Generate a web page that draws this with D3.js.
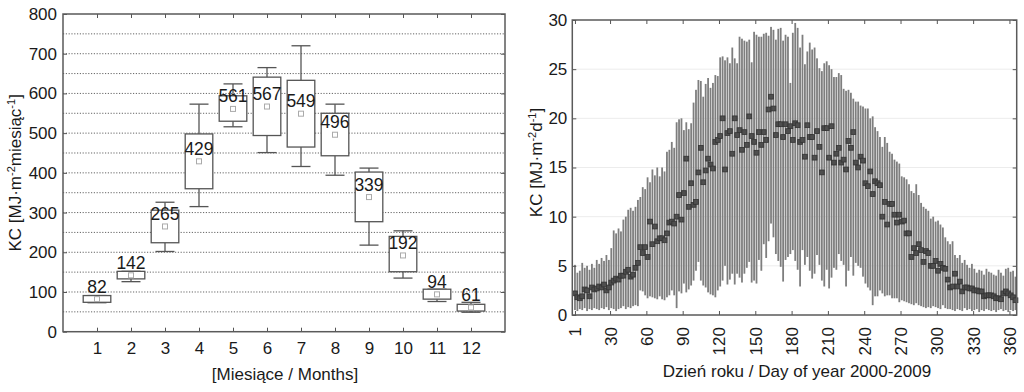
<!DOCTYPE html>
<html lang="pl">
<head>
<meta charset="utf-8">
<title>KC</title>
<script src="https://d3js.org/d3.v7.min.js"></script>
<style>
  body { margin: 0; background: #fff; }
  svg { display: block; font-family: "Liberation Sans", Arial, sans-serif; }
  .axis text { fill: #1a1a1a; font-size: 17px; }
  .axis line { stroke: #555; }
  .axis path { display: none; }
</style>
</head>
<body>
<div id="viz"></div>
<script>
// ---- left chart: monthly totals (box plot) ----
const months  = [1, 2, 3, 4, 5, 6, 7, 8, 9, 10, 11, 12];
const kcMean  = [82, 142, 265, 429, 561, 567, 549, 496, 339, 192, 94, 61];
const kcQ1    = [74, 133, 224, 360, 530, 494, 465, 443, 277, 151, 82, 52];
const kcQ3    = [91, 152, 306, 498, 594, 641, 633, 550, 402, 240, 107, 69];
const kcMin   = [73, 126, 202, 315, 516, 451, 416, 394, 218, 135, 76, 49];
const kcMax   = [91, 152, 326, 573, 624, 665, 720, 573, 412, 254, 107, 74];
const monthYTicks = [0, 100, 200, 300, 400, 500, 600, 700, 800];

// ---- right chart: daily values 2000-2009 (every second day) ----
const days = d3.range(1, 366, 2);
const dayMax = [
  5.1, 4.3, 4.5, 5.3, 4.8, 5.0, 4.6, 5.2, 4.8, 5.6,
  5.2, 5.8, 5.5, 6.1, 5.6, 6.8, 8.6, 8.3, 8.8, 8.5,
  9.7, 10.0, 10.7, 10.9, 10.6, 11.0, 11.7, 12.0, 13.0, 12.8,
  14.0, 13.5, 14.8, 14.2, 15.0, 14.1, 15.0, 14.6, 16.6, 16.8,
  17.6, 17.0, 19.6, 19.9, 20.0, 18.8, 19.6, 18.9, 19.5, 21.6,
  22.9, 23.9, 23.8, 22.2, 23.5, 24.1, 23.1, 23.6, 24.4, 24.3,
  26.2, 26.3, 25.9, 26.2, 25.6, 27.2, 26.1, 25.6, 28.3, 28.1,
  27.9, 27.8, 28.0, 25.7, 28.8, 28.5, 28.3, 28.3, 28.6, 28.7,
  28.4, 29.3, 29.0, 28.0, 29.1, 29.2, 27.9, 28.5, 28.3, 23.6,
  28.7, 29.7, 29.2, 27.2, 28.5, 25.5, 26.8, 27.7, 27.0, 27.2,
  26.1, 25.1, 24.8, 25.6, 25.8, 25.4, 25.0, 24.2, 24.2, 24.6,
  24.4, 23.0, 22.8, 22.9, 22.6, 22.0, 21.7, 21.7, 21.3, 21.2,
  21.0, 21.0, 20.0, 20.2, 19.1, 18.7, 18.1, 17.1, 18.1, 17.5,
  16.6, 16.4, 15.8, 15.6, 15.4, 14.1, 14.0, 13.8, 13.3, 12.6,
  12.4, 13.3, 12.2, 11.4, 11.0, 10.8, 10.6, 9.8, 10.0, 9.5,
  9.6, 9.2, 8.9, 7.9, 7.5, 7.2, 7.5, 6.1, 5.8, 6.1,
  5.3, 5.6, 5.1, 4.8, 5.2, 4.7, 4.3, 4.6, 4.5, 4.1,
  4.7, 4.4, 4.3, 4.1, 4.0, 4.6, 4.3, 4.0, 4.7, 4.8,
  4.4, 4.5, 3.9
];
const dayMin = [
  0.5, 0.4, 0.6, 0.5, 0.7, 0.4, 0.6, 0.5, 0.7, 0.6,
  0.5, 0.7, 0.6, 0.8, 0.5, 0.7, 0.6, 0.4, 0.6, 0.7,
  0.9, 0.6, 0.8, 0.7, 0.9, 1.0, 0.9, 2.5, 2.4, 2.0,
  1.7, 1.9, 1.8, 1.7, 1.6, 1.9, 1.6, 1.5, 1.8, 2.0,
  2.5, 2.0, 0.7, 2.4, 2.2, 3.2, 2.3, 2.6, 3.0, 3.5,
  4.5, 5.4, 3.5, 3.0, 2.8, 2.3, 2.1, 2.0, 1.8, 2.5,
  2.9, 3.5, 5.0, 3.1, 3.6, 4.2, 3.1, 4.2, 3.8, 3.3,
  4.2, 4.8, 5.4, 3.3, 3.5, 3.2, 5.6, 4.5, 7.2, 5.8,
  7.5, 9.3, 7.9, 6.2, 5.5, 4.9, 3.4, 5.6, 5.9, 6.2,
  6.6, 5.5, 4.6, 2.9, 6.6, 5.1, 5.9, 4.5, 3.7, 4.2,
  6.1, 5.1, 3.5, 2.9, 4.6, 2.7, 3.8, 4.8, 4.6, 6.2,
  5.5, 5.1, 2.9, 4.5, 5.9, 4.0, 5.3, 5.0, 4.8, 3.9,
  3.2, 2.8, 2.5, 1.0, 1.9, 1.9, 2.5, 2.2, 1.9, 2.0,
  2.0, 1.7, 1.7, 1.7, 1.3, 1.5, 1.4, 1.3, 1.2, 1.1,
  1.0, 1.2, 1.0, 0.9, 0.8, 0.7, 0.8, 0.7, 0.9, 0.8,
  0.7, 0.6, 1.0, 0.7, 0.6, 0.6, 0.5, 0.4, 0.6, 0.5,
  0.4, 0.7, 0.5, 0.6, 0.4, 0.5, 0.6, 0.3, 0.5, 0.4,
  0.6, 0.5, 0.4, 0.5, 0.3, 0.5, 0.6, 0.4, 0.5, 0.3,
  0.5, 0.4, 0.5
];
const dayMean = [
  2.2, 1.8, 1.7, 1.9, 2.6, 2.5, 1.9, 2.8, 2.6, 2.7,
  2.9, 2.8, 3.1, 2.5, 2.8, 3.3, 3.5, 3.7, 3.6, 4.0,
  4.0, 4.4, 4.6, 3.9, 4.1, 4.8, 5.3, 6.9, 6.3, 6.9,
  5.9, 9.5, 7.2, 9.0, 7.5, 7.8, 7.8, 7.6, 8.3, 9.4,
  9.5, 9.3, 10.0, 12.2, 9.7, 12.4, 15.9, 11.0, 13.4, 11.2,
  11.5, 14.5, 17.0, 13.5, 14.7, 15.9, 15.3, 14.9, 17.6, 17.8,
  18.2, 20.0, 14.8, 18.5, 18.7, 16.4, 20.0, 18.3, 18.8, 16.8,
  18.6, 17.3, 20.2, 18.2, 17.6, 16.5, 18.6, 17.3, 18.6, 17.8,
  20.9, 22.2, 21.0, 18.3, 19.4, 19.4, 18.1, 19.4, 18.7, 19.2,
  17.8, 19.5, 19.3, 17.6, 17.8, 16.1, 19.3, 18.1, 18.1, 16.0,
  18.7, 17.1, 14.5, 19.0, 19.0, 16.0, 19.2, 15.5, 16.4, 17.0,
  15.5, 15.8, 14.8, 17.7, 17.0, 18.6, 15.5, 15.0, 16.1, 15.7,
  13.4, 13.1, 14.6, 12.3, 13.6, 13.4, 13.2, 10.0, 11.5, 9.2,
  11.3, 11.3, 10.2, 9.4, 10.2, 9.5, 9.6, 8.3, 8.3, 5.9,
  6.8, 6.3, 7.2, 6.6, 5.4, 6.5, 6.3, 5.0, 5.0, 5.5,
  4.5, 5.2, 4.8, 4.7, 3.6, 2.8, 2.9, 4.2, 2.9, 3.4,
  2.4, 2.8, 2.8, 2.7, 2.7, 2.5, 2.5, 2.4, 2.4, 1.9,
  2.0, 2.0, 2.0, 1.9, 1.7, 1.7, 1.6, 2.2, 2.4, 2.2,
  2.0, 1.8, 1.5
];
const dayTicks = [1, 30, 60, 90, 120, 150, 180, 210, 240, 270, 300, 330, 360];
const dayYTicks = [0, 5, 10, 15, 20, 25, 30];

const W = 1024, H = 392;
const frameColor = "#5a5a5a";
const textColor = "#1a1a1a";

const svg = d3.select("#viz").append("svg")
    .attr("width", W)
    .attr("height", H);

// ================= left chart =================
const L = {left: 63, right: 505, top: 14, bottom: 331.7};

const xM = d3.scaleLinear().domain([0, 13]).range([L.left, L.right]);
const yM = d3.scaleLinear().domain([0, 800]).range([L.bottom, L.top]);

const gL = svg.append("g");

// dotted grid lines every 50
gL.append("g")
  .selectAll("line")
  .data(d3.range(50, 800, 50))
  .join("line")
    .attr("x1", L.left).attr("x2", L.right)
    .attr("y1", d => yM(d)).attr("y2", d => yM(d))
    .attr("stroke", "#666")
    .attr("stroke-width", 1)
    .attr("stroke-dasharray", "1.2,1.6");

gL.append("g").attr("class", "axis")
  .attr("transform", `translate(0,${L.bottom})`)
  .call(d3.axisBottom(xM).tickValues(months).tickSize(-4).tickPadding(10).tickFormat(d3.format("d")));
gL.append("g").attr("class", "axis")
  .attr("transform", `translate(0,${L.top})`)
  .call(d3.axisTop(xM).tickValues(months).tickSize(-4).tickFormat(""));
gL.append("g").attr("class", "axis")
  .attr("transform", `translate(${L.left},0)`)
  .call(d3.axisLeft(yM).tickValues(monthYTicks).tickSize(-4).tickPadding(6));
gL.append("g").attr("class", "axis")
  .attr("transform", `translate(${L.right},0)`)
  .call(d3.axisRight(yM).tickValues(monthYTicks).tickSize(-4).tickFormat(""));

// boxes
const bw = 27.6, cw = 19;
const boxes = gL.append("g").selectAll("g")
  .data(months.map((m, i) => ({m, mean: kcMean[i], q1: kcQ1[i], q3: kcQ3[i], lo: kcMin[i], hi: kcMax[i]})))
  .join("g")
    .attr("stroke", "#555")
    .attr("stroke-width", 1.3)
    .attr("fill", "none");

boxes.append("line")
  .attr("x1", d => xM(d.m)).attr("x2", d => xM(d.m))
  .attr("y1", d => yM(d.hi)).attr("y2", d => yM(d.q3));
boxes.append("line")
  .attr("x1", d => xM(d.m)).attr("x2", d => xM(d.m))
  .attr("y1", d => yM(d.q1)).attr("y2", d => yM(d.lo));
boxes.append("line")
  .attr("x1", d => xM(d.m) - cw / 2).attr("x2", d => xM(d.m) + cw / 2)
  .attr("y1", d => yM(d.hi)).attr("y2", d => yM(d.hi));
boxes.append("line")
  .attr("x1", d => xM(d.m) - cw / 2).attr("x2", d => xM(d.m) + cw / 2)
  .attr("y1", d => yM(d.lo)).attr("y2", d => yM(d.lo));
boxes.append("rect")
  .attr("x", d => xM(d.m) - bw / 2)
  .attr("y", d => yM(d.q3))
  .attr("width", bw)
  .attr("height", d => yM(d.q1) - yM(d.q3))
  .attr("fill", "#fff");
boxes.append("rect")
  .attr("x", d => xM(d.m) - 2.5)
  .attr("y", d => yM(d.mean) - 2.5)
  .attr("width", 5).attr("height", 5)
  .attr("stroke", "#aaa").attr("stroke-width", 1);
boxes.append("text")
  .attr("x", d => xM(d.m))
  .attr("y", d => yM(d.mean) - 6.5)
  .attr("text-anchor", "middle")
  .attr("stroke", "none")
  .attr("fill", textColor)
  .attr("font-size", 17.5)
  .text(d => d.mean);

gL.append("rect")
  .attr("x", L.left).attr("y", L.top)
  .attr("width", L.right - L.left).attr("height", L.bottom - L.top)
  .attr("fill", "none").attr("stroke", frameColor).attr("stroke-width", 1.5);

const tL = gL.append("text")
  .attr("transform", `translate(20.5,${(L.top + L.bottom) / 2}) rotate(-90)`)
  .attr("text-anchor", "middle")
  .attr("font-size", 17).attr("fill", textColor);
tL.append("tspan").text("KC [MJ·m");
tL.append("tspan").attr("dy", -6).attr("font-size", 11).text("-2");
tL.append("tspan").attr("dy", 6).text("miesiąc");
tL.append("tspan").attr("dy", -6).attr("font-size", 11).text("-1");
tL.append("tspan").attr("dy", 6).text("]");

gL.append("text")
  .attr("x", 285).attr("y", 379.5)
  .attr("text-anchor", "middle")
  .attr("font-size", 17).attr("fill", textColor)
  .text("[Miesiące / Months]");

// ================= right chart =================
const R = {left: 572.3, right: 1016.7, top: 20, bottom: 315};

const xD = d3.scaleLinear().domain([-1.2, 366]).range([R.left, R.right]);
const yD = d3.scaleLinear().domain([0, 30]).range([R.bottom, R.top]);

const gR = svg.append("g");

gR.append("g")
  .selectAll("line")
  .data(dayYTicks.slice(1, -1))
  .join("line")
    .attr("x1", R.left).attr("x2", R.right)
    .attr("y1", d => yD(d)).attr("y2", d => yD(d))
    .attr("stroke", "#ececec");

const daily = days.map((d, i) => ({d, hi: dayMax[i], lo: dayMin[i], mean: dayMean[i]}));

gR.append("g")
  .selectAll("rect")
  .data(daily)
  .join("rect")
    .attr("x", d => xD(d.d) - 0.9)
    .attr("width", 1.8)
    .attr("y", d => yD(d.hi))
    .attr("height", d => yD(d.lo) - yD(d.hi))
    .attr("fill", "#7e7e7e");

gR.append("g")
  .selectAll("rect")
  .data(daily)
  .join("rect")
    .attr("x", d => xD(d.d) - 2.4)
    .attr("y", d => yD(d.mean) - 2.4)
    .attr("width", 4.8).attr("height", 4.8)
    .attr("fill", "#4e4e4e")
    .attr("stroke", "#333")
    .attr("stroke-width", 0.8);

const axB = gR.append("g").attr("class", "axis")
  .attr("transform", `translate(0,${R.bottom})`)
  .call(d3.axisBottom(xD).tickValues(dayTicks).tickSize(-4).tickFormat(d3.format("d")));
axB.selectAll("text")
  .attr("transform", "rotate(-90)")
  .attr("x", -12).attr("y", 0).attr("dy", "0.35em")
  .attr("text-anchor", "end");
gR.append("g").attr("class", "axis")
  .attr("transform", `translate(0,${R.top})`)
  .call(d3.axisTop(xD).tickValues(dayTicks).tickSize(-4).tickFormat(""));
gR.append("g").attr("class", "axis")
  .attr("transform", `translate(${R.left},0)`)
  .call(d3.axisLeft(yD).tickValues(dayYTicks).tickSize(-4).tickPadding(5));
gR.append("g").attr("class", "axis")
  .attr("transform", `translate(${R.right},0)`)
  .call(d3.axisRight(yD).tickValues(dayYTicks).tickSize(-4).tickFormat(""));

gR.append("rect")
  .attr("x", R.left).attr("y", R.top)
  .attr("width", R.right - R.left).attr("height", R.bottom - R.top)
  .attr("fill", "none").attr("stroke", frameColor).attr("stroke-width", 1.5);

const tR = gR.append("text")
  .attr("transform", `translate(542,${(R.top + R.bottom) / 2 - 5}) rotate(-90)`)
  .attr("text-anchor", "middle")
  .attr("font-size", 17).attr("fill", textColor);
tR.append("tspan").text("KC [MJ·m");
tR.append("tspan").attr("dy", -6).attr("font-size", 11).text("-2");
tR.append("tspan").attr("dy", 6).text("d");
tR.append("tspan").attr("dy", -6).attr("font-size", 11).text("-1");
tR.append("tspan").attr("dy", 6).text("]");

gR.append("text")
  .attr("x", 797).attr("y", 376.5)
  .attr("text-anchor", "middle")
  .attr("font-size", 17).attr("fill", textColor)
  .text("Dzień roku / Day of year 2000-2009");
</script>
</body>
</html>
